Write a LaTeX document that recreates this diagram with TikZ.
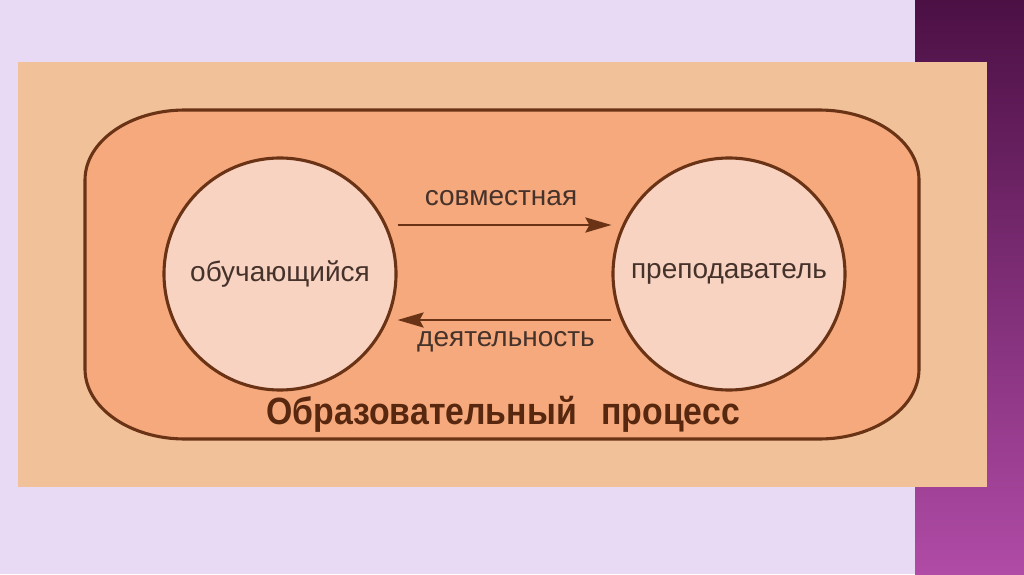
\documentclass[tikz,border=0pt]{standalone}
\usepackage{fontspec}
\setmainfont{Liberation Sans}
\newfontfamily\titlefont[FakeStretch=0.89]{Liberation Sans}
\usetikzlibrary{arrows.meta}
\definecolor{lav}{HTML}{E8DAF5}
\definecolor{purpTop}{HTML}{4C1045}
\definecolor{purpBot}{HTML}{B04BA6}
\definecolor{peach}{HTML}{F1C299}
\definecolor{salmon}{HTML}{F5A97C}
\definecolor{circfill}{HTML}{F8D3C1}
\definecolor{brownline}{HTML}{6A3315}
\definecolor{txtgray}{HTML}{45322B}
\definecolor{titlebrown}{HTML}{57280F}
\tikzset{
  outline/.style={draw=brownline, line width=3.1pt},
  circ/.style={circle, outline, fill=circfill, minimum size=232pt, inner sep=0pt,
    text=txtgray, font=\fontsize{28}{31}\selectfont},
  lbl/.style={inner sep=0pt, text=txtgray, font=\fontsize{28}{31}\selectfont},
  arr/.style={draw=brownline, line width=2.8pt, -{Stealth[length=26pt,width=15pt,inset=4pt]}},
  titletext/.style={inner sep=0pt, text=titlebrown, font=\titlefont\bfseries\fontsize{38}{42}\selectfont}
}
\begin{document}
\begin{tikzpicture}[x=1pt,y=1pt]
\useasboundingbox (0,0) rectangle (1024,574);
\fill[lav] (0,0) rectangle (1024,574);
\shade[top color=purpTop, bottom color=purpBot] (915,0) rectangle (1024,574);
\fill[peach] (18,87) rectangle (987,512);
\draw[outline, fill=salmon] (185,464) -- (819,464)
  arc[start angle=90,end angle=0,x radius=100,y radius=70] -- (919,205)
  arc[start angle=0,end angle=-90,x radius=100,y radius=70] -- (185,135)
  arc[start angle=270,end angle=180,x radius=100,y radius=70] -- (85,394)
  arc[start angle=180,end angle=90,x radius=100,y radius=70] -- cycle;
\node[circ] (a) at (280,300) {обучающийся};
\node[circ] (b) at (729,300) {преподаватель};
\draw[arr] ([yshift=49pt]a.east) -- ([yshift=49pt]b.west);
\draw[arr] ([yshift=-46pt]b.west) -- ([yshift=-46pt]a.east);
\node[lbl] (t1) at (501,376) {совместная};
\node[lbl] (t2) at (506,232) {деятельность};
\node[titletext] (t3) at (503,160) {Образовательный\hspace{0.4em} процесс};
\end{tikzpicture}
\end{document}
